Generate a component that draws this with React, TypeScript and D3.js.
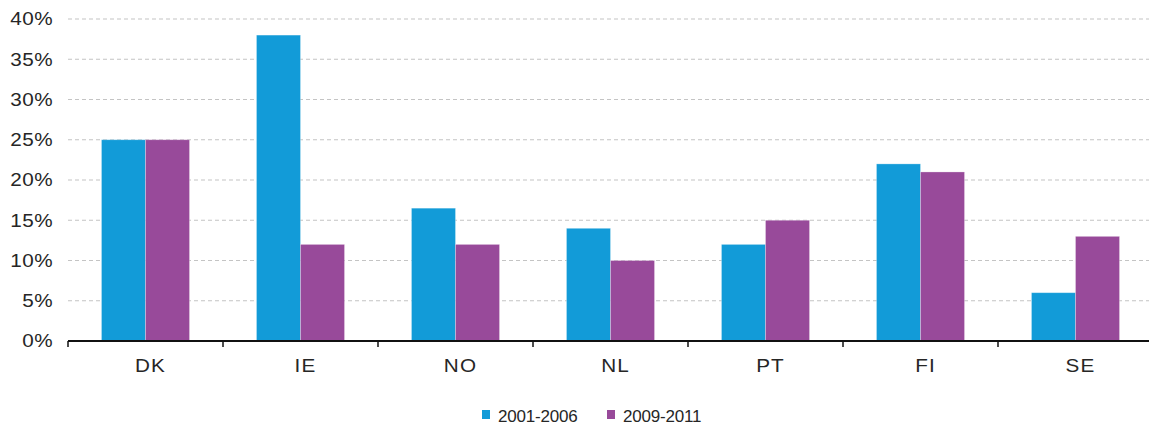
import React from 'react'
import { scaleLinear, scaleBand } from 'd3'

const W = 1149
const H = 427
const M = { top: 19, right: -4, bottom: 86, left: 68 }

const countries = ['DK', 'IE', 'NO', 'NL', 'PT', 'FI', 'SE']
const s2001_2006 = [25, 38, 16.5, 14, 12, 22, 6]
const s2009_2011 = [25, 12, 12, 10, 15, 21, 13]
const yTicks = [0, 5, 10, 15, 20, 25, 30, 35, 40]
const seriesNames = ['2001-2006', '2009-2011']
const COLORS = ['#129bd8', '#984a9a']

export default function App() {
  const x = scaleBand<string>()
    .domain(countries)
    .range([M.left, W - M.right])
    .paddingInner(0.432)
    .paddingOuter(0.216)
  const y = scaleLinear().domain([0, 40]).range([H - M.bottom, M.top])
  const bw = x.bandwidth() / 2
  const step = x.step()
  const series = [s2001_2006, s2009_2011]

  return (
    <>
      <style>{'body{margin:0}'}</style>
      <svg width={W} height={H} style={{ display: 'block', fontFamily: '"Liberation Sans", Arial, sans-serif' }}>
        {/* grid */}
        {yTicks.filter((t) => t > 0).map((t) => (
          <line key={`g${t}`} x1={M.left} x2={W} y1={y(t)} y2={y(t)}
            stroke="#c4c4c4" strokeWidth={1.2} strokeDasharray="4 3" />
        ))}
        {/* y labels, glyphs a bit wider than plain Arial */}
        {yTicks.map((t) => (
          <text key={`y${t}`} transform={`translate(53,${y(t)}) scale(1.15,1)`} dy="0.36em"
            textAnchor="end" fontSize={18} letterSpacing={0.4} fill="#262626">
            {t}%
          </text>
        ))}
        {/* bars */}
        {series.map((vals, si) =>
          countries.map((c, i) => (
            <rect key={`${si}-${c}`} x={(x(c) as number) + si * bw} y={y(vals[i])}
              width={bw} height={y(0) - y(vals[i])} fill={COLORS[si]}
              stroke="#ffffff" strokeOpacity={0.35} strokeWidth={0.8} />
          ))
        )}
        {/* x axis */}
        <line x1={M.left} x2={W} y1={y(0)} y2={y(0)} stroke="#111" strokeWidth={2} />
        {countries.map((c, i) => (
          <line key={`t${c}`} x1={M.left + i * step} x2={M.left + i * step}
            y1={y(0)} y2={y(0) + 6} stroke="#111" strokeWidth={1.5} />
        ))}
        {countries.map((c) => (
          <text key={`x${c}`}
            transform={`translate(${(x(c) as number) + x.bandwidth() / 2 + 5},372) scale(1.15,1)`}
            textAnchor="middle" fontSize={18} letterSpacing={1} fill="#262626">
            {c}
          </text>
        ))}
        {/* legend */}
        {seriesNames.map((name, i) => {
          const lx = [482, 607][i]
          return (
            <g key={name}>
              <rect x={lx} y={410} width={8} height={9} fill={COLORS[i]} />
              <text x={lx + 16} y={422} fontSize={17} fill="#262626" letterSpacing={-0.2}>
                {name}
              </text>
            </g>
          )
        })}
      </svg>
    </>
  )
}
